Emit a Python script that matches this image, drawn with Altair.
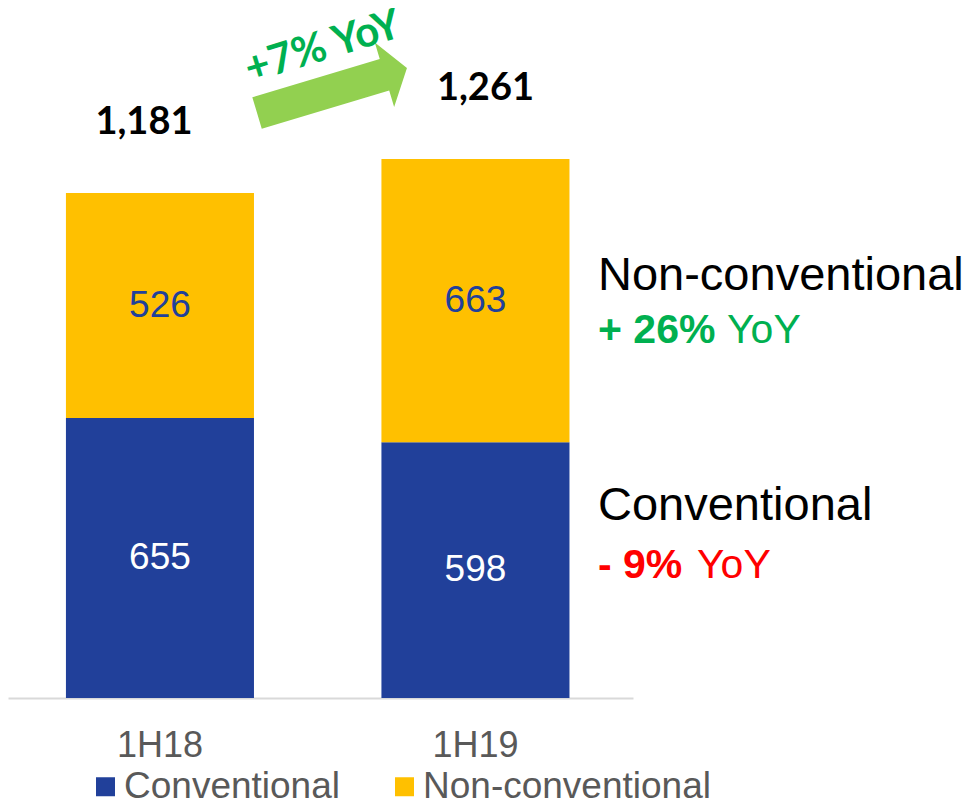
import altair as alt
import pandas as pd

# ---- data ----
periods = ["1H18", "1H19"]
series = ["Conventional", "Non-conventional"]
conventional = [655, 598]
non_conventional = [526, 663]
totals = [1181, 1261]
series_colors = ["#21409A", "#FFC000"]
value_label_colors = ["#FFFFFF", "#21409A"]

growth_label = "+7% YoY"
annot_titles = ["Non-conventional", "Conventional"]
annot_changes = ["+ 26%", "- 9%"]
annot_suffix = "YoY"
annot_colors = ["#00B050", "#FF0000"]

FONT = "Liberation Sans, Arial, sans-serif"
BOLD_FONT = "Lato, Liberation Sans, sans-serif"

rows = []
for i, p in enumerate(periods):
    base = 0
    for k, (s, vals) in enumerate(zip(series, [conventional, non_conventional])):
        v = vals[i]
        rows.append(dict(period=p, series=s, value=v, start=base, end=base + v,
                         mid=base + v / 2, order=k))
        base += v
bars_df = pd.DataFrame(rows)
tot_df = pd.DataFrame({"period": periods, "total": totals,
                       "label": [f"{t:,}" for t in totals]})

W, H = 625, 690
x_scale = alt.Scale(domain=periods, paddingInner=0.404, paddingOuter=0.1925, align=0.477)
y_scale = alt.Scale(domain=[0, 1614], nice=False, zero=True)

x_enc = alt.X("period:N", scale=x_scale, sort=periods,
              axis=alt.Axis(title=None, labelFontSize=36, labelColor="#595959", labelFont=FONT,
                            ticks=False, tickSize=0, labelPadding=58, labelBaseline="alphabetic",
                            domainColor="#D9D9D9", domainWidth=2, labelAngle=0, grid=False))

bars = alt.Chart(bars_df).mark_bar(opacity=1).encode(
    x=x_enc,
    y=alt.Y("start:Q", scale=y_scale, axis=None),
    y2="end:Q",
    color=alt.Color("series:N", scale=alt.Scale(domain=series, range=series_colors),
                    legend=alt.Legend(title=None, orient="none", legendX=79, legendY=760,
                                      direction="horizontal", symbolType="square",
                                      symbolSize=361, symbolStrokeWidth=0, symbolOpacity=1,
                                      labelFontSize=37, labelColor="#595959", labelFont=FONT,
                                      labelLimit=500, labelOffset=0, columnPadding=46,
                                      padding=0)),
    order=alt.Order("order:Q"),
)

value_layers = []
for s, c in zip(series, value_label_colors):
    value_layers.append(
        alt.Chart(bars_df).transform_filter(alt.datum.series == s).mark_text(
            fontSize=37, font=FONT, color=c, baseline="middle", align="center"
        ).encode(
            x=alt.X("period:N", scale=x_scale, sort=periods),
            y=alt.Y("mid:Q", scale=y_scale),
            text=alt.Text("value:Q"),
        )
    )

total_layers = []
for p, dx in zip(periods, [-16, 10]):
    total_layers.append(
        alt.Chart(tot_df).transform_filter(alt.datum.period == p).mark_text(
            fontSize=38, font=BOLD_FONT, fontWeight="bold", color="#000000",
            baseline="alphabetic", align="center", dy=-59, dx=dx
        ).encode(
            x=alt.X("period:N", scale=x_scale, sort=periods),
            y=alt.Y("total:Q", scale=y_scale),
            text="label:N",
        )
    )

ARROW = "M -1 -0.21 L 0.7 -0.21 L 0.7 -0.43 L 1 0 L 0.7 0.43 L 0.7 0.21 L -1 0.21 Z"
arrow = alt.Chart(pd.DataFrame({"t": [growth_label]})).mark_point(
    shape=ARROW, size=24500, angle=343.3, filled=True, color="#92D050",
    opacity=1, strokeWidth=0
).encode(x=alt.value(324), y=alt.value(82.5))

arrow_text = alt.Chart(pd.DataFrame({"t": [growth_label]})).mark_text(
    fontSize=42, font=BOLD_FONT, fontWeight="bold", color="#00B050",
    angle=343, align="center", baseline="middle"
).encode(x=alt.value(315), y=alt.value(39), text="t:N")

annots = []
title_y = [282, 512]
change_y = [335, 570]
suffix_x = [719, 689]
for t, ch, col, ty, cy, sx in zip(annot_titles, annot_changes, annot_colors, title_y, change_y, suffix_x):
    annots.append(alt.Chart(pd.DataFrame({"t": [t]})).mark_text(
        fontSize=47, font=FONT, color="#000000", align="left", baseline="alphabetic"
    ).encode(x=alt.value(590), y=alt.value(ty), text="t:N"))
    annots.append(alt.Chart(pd.DataFrame({"t": [ch]})).mark_text(
        fontSize=41, font=FONT, fontWeight="bold", color=col, align="left", baseline="alphabetic"
    ).encode(x=alt.value(590), y=alt.value(cy), text="t:N"))
    annots.append(alt.Chart(pd.DataFrame({"t": [annot_suffix]})).mark_text(
        fontSize=41, font=FONT, color=col, align="left", baseline="alphabetic"
    ).encode(x=alt.value(sx), y=alt.value(cy), text="t:N"))

chart = alt.layer(bars, *value_layers, *total_layers, arrow, arrow_text, *annots).properties(
    width=W, height=H, background="#FFFFFF",
    autosize=alt.AutoSizeParams(type="none"),
    padding={"left": 0, "top": 0, "right": 335, "bottom": 102},
).configure_view(stroke=None)

chart.save("out.html", embed_options={"renderer": "svg", "actions": False})
